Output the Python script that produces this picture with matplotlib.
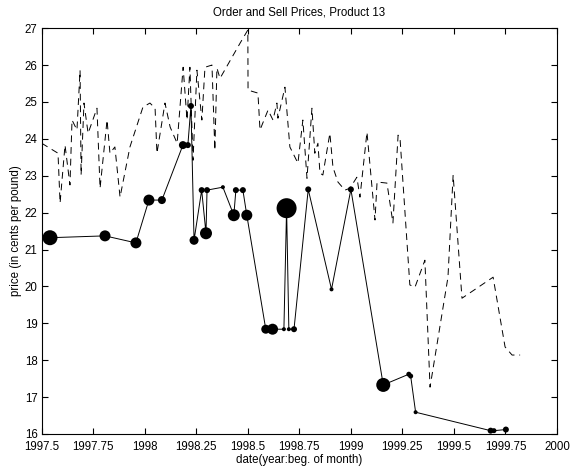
import matplotlib
matplotlib.use("Agg")
import matplotlib.pyplot as plt
import numpy as np

plt.rcParams["font.family"] = ["Liberation Sans", "DejaVu Sans"]

# order prices (solid line, marker size ~ order volume)
order_date = [1997.540, 1997.807, 1997.957, 1998.020, 1998.083, 1998.185, 1998.209,
              1998.224, 1998.239, 1998.276, 1998.297, 1998.302, 1998.379, 1998.432,
              1998.442, 1998.476, 1998.495, 1998.587, 1998.620, 1998.675, 1998.688,
              1998.699, 1998.724, 1998.793, 1998.906, 1999.000, 1999.157, 1999.281,
              1999.290, 1999.314, 1999.678, 1999.694, 1999.752]
order_price = [21.32, 21.37, 21.18, 22.34, 22.34, 23.83, 23.83,
               24.89, 21.25, 22.61, 21.44, 22.61, 22.69, 21.93,
               22.61, 22.61, 21.93, 18.84, 18.84, 18.84, 22.12,
               18.84, 18.84, 22.63, 19.92, 22.63, 17.33, 17.62,
               17.57, 16.59, 16.09, 16.09, 16.12]
order_size = [15, 11, 11, 11, 8, 8, 6,
              6, 9, 6, 12, 6, 4, 12,
              6, 6, 11, 9, 11, 4, 20,
              4, 6, 6, 4, 6, 14, 5,
              5, 4, 6, 5, 6]

# sell prices (dashed line)
sell_date = [1997.500, 1997.579, 1997.589, 1997.613, 1997.637, 1997.647, 1997.671,
             1997.686, 1997.691, 1997.705, 1997.725, 1997.768, 1997.783, 1997.817,
             1997.831, 1997.855, 1997.880, 1997.928, 1997.991, 1998.025, 1998.050,
             1998.059, 1998.098, 1998.123, 1998.157, 1998.186, 1998.205, 1998.219,
             1998.234, 1998.253, 1998.277, 1998.292, 1998.326, 1998.340, 1998.350,
             1998.365, 1998.462, 1998.500, 1998.501, 1998.549, 1998.559, 1998.598,
             1998.622, 1998.641, 1998.646, 1998.680, 1998.704, 1998.743, 1998.767,
             1998.787, 1998.811, 1998.825, 1998.840, 1998.850, 1998.864, 1998.898,
             1998.913, 1998.937, 1998.971, 1998.995, 1999.029, 1999.044, 1999.078,
             1999.117, 1999.127, 1999.175, 1999.204, 1999.229, 1999.239, 1999.286,
             1999.311, 1999.359, 1999.384, 1999.471, 1999.496, 1999.539, 1999.690,
             1999.748, 1999.782, 1999.821]
sell_price = [23.88, 23.61, 22.26, 23.83, 22.75, 24.51, 24.24,
              25.86, 23.02, 24.97, 24.15, 24.83, 22.66, 24.51,
              23.61, 23.78, 22.42, 23.78, 24.86, 24.97, 24.83,
              23.61, 24.97, 24.32, 23.88, 25.94, 24.51, 25.94,
              23.42, 25.86, 24.51, 25.94, 26.00, 23.69, 25.92,
              25.64, 26.59, 26.95, 25.32, 25.24, 24.24, 24.78,
              24.51, 24.97, 24.56, 25.40, 23.78, 23.34, 24.51,
              22.93, 24.83, 23.61, 23.88, 23.07, 23.02, 24.15,
              23.23, 22.83, 22.61, 22.66, 22.96, 22.42, 24.18,
              21.80, 22.83, 22.80, 21.72, 24.10, 23.96, 20.04,
              19.98, 20.71, 17.27, 20.25, 23.02, 19.68, 20.25,
              18.36, 18.14, 18.14]

xticks = [1997.5, 1997.75, 1998, 1998.25, 1998.5, 1998.75, 1999, 1999.25, 1999.5, 1999.75, 2000]
xticklabels = ["1997.5", "1997.75", "1998", "1998.25", "1998.5", "1998.75",
               "1999", "1999.25", "1999.5", "1999.75", "2000"]
yticks = list(range(16, 28))

fig = plt.figure(figsize=(5.7, 4.67), dpi=100)
ax = fig.add_axes([0.0732, 0.0707, 0.904, 0.869])

ax.plot(sell_date, sell_price, color="black", linestyle=(0, (7, 5)), linewidth=0.7)
ax.plot(order_date, order_price, color="black", linewidth=0.7)
s = (np.array(order_size) * 0.72) ** 2
ax.scatter(order_date, order_price, s=s, color="black", zorder=3, linewidths=0)

ax.set_xlim(1997.5, 2000)
ax.set_ylim(16, 27)
ax.set_xticks(xticks)
ax.set_xticklabels(xticklabels)
ax.set_yticks(yticks)
ax.tick_params(direction="in", top=True, right=True, length=4, labelsize=8.3, width=0.8)
ax.tick_params(axis="x", pad=5)
ax.tick_params(axis="y", pad=3)
for sp in ax.spines.values():
    sp.set_linewidth(0.8)

ax.set_title("Order and Sell Prices, Product 13", fontsize=8.3, pad=9)
ax.set_xlabel("date(year:beg. of month)", fontsize=8.3, labelpad=1)
ax.set_ylabel("price (in cents per pound)", fontsize=8.3, labelpad=2)

plt.savefig("out.png", dpi=100)
